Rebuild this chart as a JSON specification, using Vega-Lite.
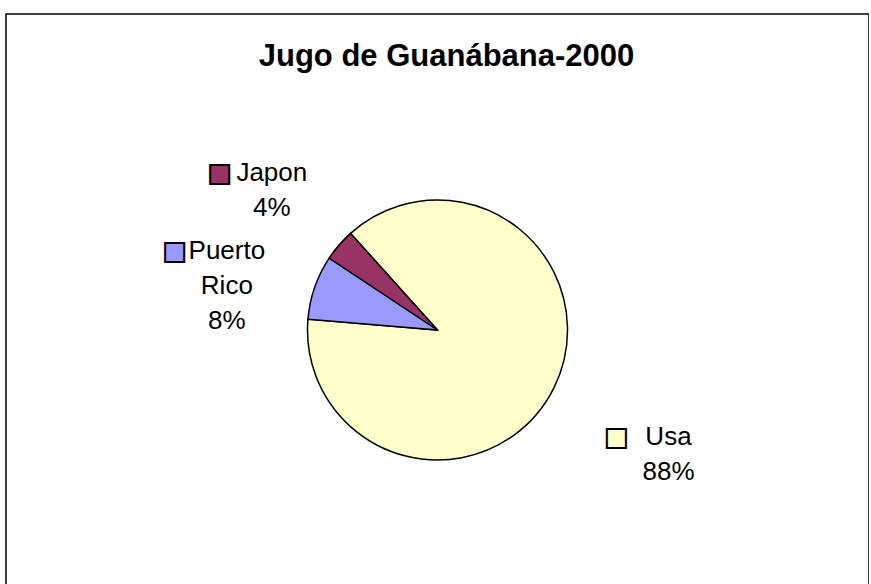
{
  "$schema": "https://vega.github.io/schema/vega-lite/v6.json",
  "autosize": {"type": "none"},
  "padding": {"left": 6, "top": 14, "right": 0, "bottom": 0},
  "width": 863,
  "height": 632,
  "background": "white",
  "view": {"stroke": "black", "strokeWidth": 1.5, "fill": "white"},
  "title": {
    "text": "Jugo de Guanábana-2000",
    "font": "Liberation Sans",
    "fontSize": 31,
    "fontWeight": "bold",
    "color": "black",
    "anchor": "middle",
    "frame": "group",
    "baseline": "alphabetic",
    "offset": -54,
    "dx": 9,
    "dy": 29
  },
  "data": {
    "values": [
      {"pais": "Usa", "valor": 88},
      {"pais": "Puerto Rico", "valor": 8},
      {"pais": "Japon", "valor": 4}
    ]
  },
  "transform": [
    {"joinaggregate": [{"op": "sum", "field": "valor", "as": "total"}]},
    {"calculate": "datum.pais + ' ' + format(datum.valor / datum.total, '.0%')", "as": "etiqueta"},
    {"calculate": "'■ ' + replace(datum.pais, regexp('[^ ]', 'g'), '')", "as": "clave"}
  ],
  "encoding": {
    "theta": {"field": "valor", "type": "quantitative", "stack": true, "scale": {"range": [-0.733, 5.550]}},
    "order": {"field": "pais", "sort": "descending"}
  },
  "layer": [
    {
      "mark": {"type": "arc", "outerRadius": 130, "stroke": "black", "strokeWidth": 1.5},
      "encoding": {
        "color": {
          "field": "pais", "type": "nominal", "legend": null,
          "scale": {"domain": ["Usa", "Puerto Rico", "Japon"], "range": ["#FFFFCC", "#9999FF", "#993366"]}
        }
      }
    },
    {
      "mark": {"type": "text", "radius": 240, "dx": 16, "font": "Liberation Sans", "fontSize": 26, "lineBreak": " ", "lineHeight": 35, "align": "center", "baseline": "middle", "color": "black"},
      "encoding": {"text": {"field": "etiqueta"}}
    },
    {
      "mark": {"type": "text", "radius": 240, "font": "DejaVu Sans", "fontSize": 25, "lineBreak": " ", "lineHeight": 35, "align": "center", "baseline": "middle", "dx": -36, "stroke": "black", "strokeWidth": 2},
      "encoding": {
        "text": {"field": "clave"},
        "color": {
          "field": "pais", "type": "nominal", "legend": null,
          "scale": {"domain": ["Usa", "Puerto Rico", "Japon"], "range": ["#FFFFCC", "#9999FF", "#993366"]}
        }
      }
    }
  ]
}
